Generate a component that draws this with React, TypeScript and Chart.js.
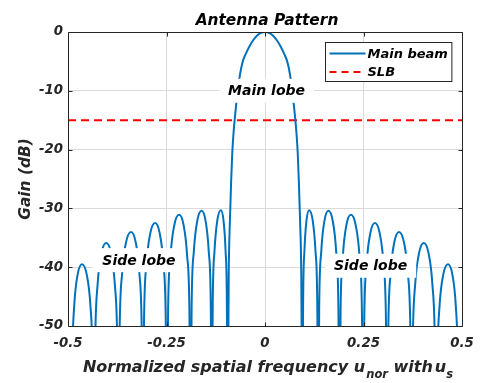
import React, { useEffect, useRef } from 'react';
import { Chart, registerables } from 'chart.js';

Chart.register(...registerables);

// ---- Data ----
// Normalized spatial frequency (u) of each sampled point of the main-beam curve
const beamU = [
  -0.5,
  -0.4925, -0.4897, -0.4841, -0.4757, -0.4645, -0.4523, -0.4432, -0.4371,
  -0.434, -0.4309, -0.4247, -0.4154, -0.403, -0.3906, -0.3813, -0.3751,
  -0.372, -0.3688, -0.3624, -0.3528, -0.34, -0.328, -0.319, -0.313,
  -0.31, -0.3069, -0.3007, -0.2914, -0.279, -0.267, -0.258, -0.252,
  -0.249, -0.2459, -0.2397, -0.2304, -0.218, -0.2064, -0.1977, -0.1919,
  -0.189, -0.1862, -0.1806, -0.1722, -0.161, -0.1506, -0.1428, -0.1376,
  -0.135, -0.1327, -0.1281, -0.1212, -0.112, -0.1052, -0.1001, -0.0967,
  -0.095, -0.092, -0.089, -0.086, -0.083, -0.08, -0.075, -0.07, -0.065, -0.06,
  -0.055, -0.05, -0.04, -0.03, -0.02, -0.01,
  0,
  0.01, 0.02, 0.03, 0.04, 0.05, 0.055,
  0.06, 0.065, 0.07, 0.075, 0.08, 0.083, 0.086, 0.089, 0.092, 0.095,
  0.0967, 0.1001, 0.1052, 0.112, 0.1212, 0.1281, 0.1327, 0.135,
  0.1376, 0.1428, 0.1506, 0.161, 0.1722, 0.1806, 0.1862, 0.189,
  0.1919, 0.1977, 0.2064, 0.218, 0.2304, 0.2397, 0.2459, 0.249,
  0.252, 0.258, 0.267, 0.279, 0.2914, 0.3007, 0.3069, 0.31,
  0.313, 0.319, 0.328, 0.34, 0.3528, 0.3624, 0.3688, 0.372,
  0.3751, 0.3813, 0.3906, 0.403, 0.4154, 0.4247, 0.4309, 0.434,
  0.4371, 0.4432, 0.4523, 0.4645, 0.4757, 0.4841, 0.4897, 0.4925,
  0.5,
];

// Gain in dB at each of the points above
const beamGain = [
  -55,
  -70, -55.6, -46.4, -41.3, -39.5, -41.3, -46.4, -55.6,
  -70, -52, -42.8, -37.7, -35.9, -37.7, -42.8, -52,
  -70, -50.1, -40.9, -35.8, -34.0, -35.8, -40.9, -50.1,
  -70, -48.6, -39.4, -34.3, -32.5, -34.3, -39.4, -48.6,
  -70, -47.2, -38.0, -32.9, -31.1, -32.9, -38.0, -47.2,
  -70, -46.5, -37.3, -32.2, -30.4, -32.2, -37.3, -46.5,
  -70, -46.4, -37.2, -32.1, -30.3, -32.1, -37.2, -46.4,
  -70, -41, -32, -25.5, -20.5, -17.3, -13.6, -10.4, -7.9, -6.0,
  -4.7, -3.9, -2.5, -1.4, -0.6, -0.15,
  0,
  -0.15, -0.6, -1.4, -2.5, -3.9, -4.7,
  -6.0, -7.9, -10.4, -13.6, -17.3, -20.5, -25.5, -32, -41, -70,
  -46.4, -37.2, -32.1, -30.3, -32.1, -37.2, -46.4, -70,
  -46.5, -37.3, -32.2, -30.4, -32.2, -37.3, -46.5, -70,
  -47.2, -38.0, -32.9, -31.1, -32.9, -38.0, -47.2, -70,
  -48.6, -39.4, -34.3, -32.5, -34.3, -39.4, -48.6, -70,
  -50.1, -40.9, -35.8, -34.0, -35.8, -40.9, -50.1, -70,
  -52, -42.8, -37.7, -35.9, -37.7, -42.8, -52, -70,
  -55.6, -46.4, -41.3, -39.5, -41.3, -46.4, -55.6, -70,
  -55,
];

const slbLevel = -15;
const slbU = [-0.5, 0.5];

const xTicks = [-0.5, -0.25, 0, 0.25, 0.5];
const xTickLabels = ['-0.5', '-0.25', '0', '0.25', '0.5'];
const yTicks = [-50, -40, -30, -20, -10, 0];
const yTickLabels = ['-50', '-40', '-30', '-20', '-10', '0'];

const seriesNames = ['Main beam', 'SLB'];
const titleText = 'Antenna Pattern';
const yTitle = 'Gain (dB)';

const noteTexts = ['Main lobe', 'Side lobe', 'Side lobe'];
const noteU = [0.004, -0.32, 0.268];
const noteGain = [-10, -38.8, -39.75];

// ---- Styles ----
const FAMILY = '"DejaVu Sans", "Liberation Sans", sans-serif';
const AXIS_COLOR = '#262626';
const BLUE = '#0072BD';
const RED = '#FF0000';
const GRID = '#dadada';
const RED_DASH = [8, 5];

const overlayPlugin = {
  id: 'overlay',
  afterDraw(chart: any) {
    const { ctx, chartArea: a, scales } = chart;
    const x = scales.x;
    const y = scales.y;
    ctx.save();

    // text notes with white boxes
    ctx.font = `italic bold 14px ${FAMILY}`;
    ctx.textAlign = 'center';
    ctx.textBaseline = 'middle';
    noteTexts.forEach((t, i) => {
      const px = x.getPixelForValue(noteU[i]);
      const py = y.getPixelForValue(noteGain[i]);
      const w = ctx.measureText(t).width;
      ctx.fillStyle = '#ffffff';
      ctx.fillRect(px - w / 2 - 9, py - 12, w + 18, 24);
      ctx.fillStyle = '#000000';
      ctx.fillText(t, px, py + 1);
    });

    // axes box
    ctx.strokeStyle = AXIS_COLOR;
    ctx.lineWidth = 1;
    const L = Math.round(a.left) + 0.5;
    const R = Math.round(a.right) + 0.5;
    const T = Math.round(a.top) + 0.5;
    const B = Math.round(a.bottom) + 0.5;
    ctx.beginPath();
    ctx.rect(L, T, R - L, B - T);
    const tl = 4;
    xTicks.forEach((v) => {
      const px = Math.round(x.getPixelForValue(v)) + 0.5;
      ctx.moveTo(px, B); ctx.lineTo(px, B - tl);
      ctx.moveTo(px, T); ctx.lineTo(px, T + tl);
    });
    yTicks.forEach((v) => {
      const py = Math.round(y.getPixelForValue(v)) + 0.5;
      ctx.moveTo(L, py); ctx.lineTo(L + tl, py);
      ctx.moveTo(R, py); ctx.lineTo(R - tl, py);
    });
    ctx.stroke();

    // legend
    ctx.font = `italic bold 13px ${FAMILY}`;
    const tw = Math.max(...seriesNames.map((s) => ctx.measureText(s).width));
    const lw = 4 + 36 + 2 + tw + 4;
    const lh = 39;
    const lx = Math.round(a.right - 10.5 - lw) + 0.5;
    const ly = Math.round(a.top + 10) + 0.5;
    ctx.fillStyle = '#ffffff';
    ctx.fillRect(lx, ly, lw, lh);
    ctx.strokeStyle = AXIS_COLOR;
    ctx.lineWidth = 1;
    ctx.strokeRect(lx, ly, lw, lh);
    const rows = [ly + 11, ly + 29.5];
    ctx.lineWidth = 2;
    ctx.strokeStyle = BLUE;
    ctx.setLineDash([]);
    ctx.beginPath(); ctx.moveTo(lx + 4, rows[0]); ctx.lineTo(lx + 40, rows[0]); ctx.stroke();
    ctx.strokeStyle = RED;
    ctx.setLineDash([7, 5]);
    ctx.beginPath(); ctx.moveTo(lx + 4, rows[1]); ctx.lineTo(lx + 40, rows[1]); ctx.stroke();
    ctx.setLineDash([]);
    ctx.fillStyle = '#000000';
    ctx.textAlign = 'left';
    ctx.textBaseline = 'middle';
    seriesNames.forEach((s, i) => ctx.fillText(s, lx + 42, rows[i] + 1));

    // title
    ctx.font = `italic bold 15.4px ${FAMILY}`;
    ctx.fillStyle = '#000000';
    ctx.textAlign = 'center';
    ctx.textBaseline = 'alphabetic';
    ctx.fillText(titleText, (a.left + a.right) / 2 + 2, 25);

    // x axis title with subscripts
    const mainF = `italic bold 16px ${FAMILY}`;
    const subF = `italic bold 11.5px ${FAMILY}`;
    const segs: [string, string, number, number][] = [
      ['Normalized spatial frequency u', mainF, 0, 0],
      ['nor', subF, 6, 1],
      [' with', mainF, 0, 0],
      ['u', mainF, 0, 2],
      ['s', subF, 6, 0],
    ];
    let total = 0;
    segs.forEach(([t, f, , gap]) => { ctx.font = f; total += ctx.measureText(t).width + gap; });
    let cx = (a.left + a.right) / 2 + 3 - total / 2;
    ctx.textAlign = 'left';
    ctx.fillStyle = AXIS_COLOR;
    segs.forEach(([t, f, dy, gap]) => {
      ctx.font = f;
      cx += gap;
      ctx.fillText(t, cx, 372 + dy);
      cx += ctx.measureText(t).width;
    });

    // y axis title
    ctx.save();
    ctx.translate(30, (a.top + a.bottom) / 2);
    ctx.rotate(-Math.PI / 2);
    ctx.font = `italic bold 15.4px ${FAMILY}`;
    ctx.textAlign = 'center';
    ctx.textBaseline = 'alphabetic';
    ctx.fillText(yTitle, 0, 0);
    ctx.restore();

    ctx.restore();
  },
};

export default function App() {
  const ref = useRef<HTMLCanvasElement | null>(null);

  useEffect(() => {
    document.body.style.margin = '0';
    const canvas = ref.current;
    if (!canvas) return;
    const beamData = beamU.map((u, i) => ({ x: u, y: beamGain[i] }));
    const slbData = slbU.map((u) => ({ x: u, y: slbLevel }));
    const tickFont = { family: FAMILY, size: 13.3, style: 'italic' as const, weight: 'bold' as const };

    const chart = new Chart(canvas, {
      type: 'line',
      data: {
        datasets: [
          {
            label: seriesNames[0],
            data: beamData,
            borderColor: BLUE,
            borderWidth: 2,
            pointRadius: 0,
            cubicInterpolationMode: 'monotone',
            capBezierPoints: false,
            fill: false,
            clip: 0,
          } as any,
          {
            label: seriesNames[1],
            data: slbData,
            borderColor: RED,
            borderWidth: 2,
            borderDash: RED_DASH,
            pointRadius: 0,
            fill: false,
            clip: 0,
          } as any,
        ],
      },
      options: {
        animation: false,
        responsive: false,
        devicePixelRatio: 1,
        events: [],
        layout: { padding: { left: 0, top: 32, right: 26, bottom: 0 } },
        plugins: {
          legend: { display: false },
          title: { display: false },
          tooltip: { enabled: false },
        },
        scales: {
          x: {
            type: 'linear',
            min: -0.5,
            max: 0.5,
            afterBuildTicks: (s: any) => { s.ticks = xTicks.map((v) => ({ value: v })); },
            afterFit: (s: any) => { s.height = 57; },
            ticks: {
              font: tickFont,
              color: AXIS_COLOR,
              padding: 10,
              maxRotation: 0,
              autoSkip: false,
              callback: (_v: any, i: number) => xTickLabels[i],
            },
            grid: {
              drawTicks: false,
              color: (c: any) => (c.tick && c.tick.value > -0.5 && c.tick.value < 0.5 ? GRID : 'rgba(0,0,0,0)'),
            },
            border: { display: false },
          },
          y: {
            type: 'linear',
            min: -50,
            max: 0,
            afterBuildTicks: (s: any) => { s.ticks = yTicks.map((v) => ({ value: v })); },
            afterFit: (s: any) => { s.width = 68; },
            ticks: {
              font: tickFont,
              color: AXIS_COLOR,
              padding: 5,
              autoSkip: false,
              callback: (_v: any, i: number) => yTickLabels[i],
            },
            grid: {
              drawTicks: false,
              color: (c: any) => (c.tick && c.tick.value > -50 && c.tick.value < 0 ? GRID : 'rgba(0,0,0,0)'),
            },
            border: { display: false },
          },
        },
      } as any,
      plugins: [overlayPlugin],
    });
    return () => chart.destroy();
  }, []);

  return (
    <div style={{ width: 488, height: 383 }}>
      <canvas ref={ref} width={488} height={383} style={{ display: 'block' }} />
    </div>
  );
}
